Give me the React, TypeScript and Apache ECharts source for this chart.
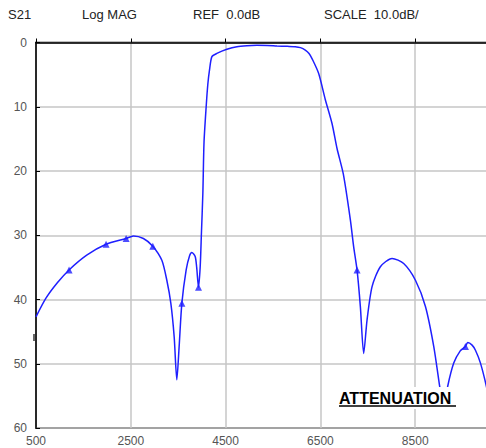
import React, { useEffect, useRef } from "react";
import * as echarts from "echarts";

// Frequency axis starts at 500; grid every 2000
const FREQ_START = 500;
const FREQ_STEP = 2000;
const FREQ_SPAN = 10000;
const xTickLabels = ["500", "2500", "4500", "6500", "8500"];
const yTickLabels = ["0", "10", "20", "30", "40", "50", "60"];

const headerTexts = ["S21", "Log MAG", "REF  0.0dB", "SCALE  10.0dB/"];
const annotation = "ATTENUATION";

// S21 trace (frequency, attenuation in dB)
const freqs = [
  500, 710, 950, 1197, 1570, 1978, 2401, 2555, 2766, 2964, 3155, 3260, 3345,
  3415, 3471, 3520, 3577, 3668, 3740, 3788, 3858, 3890, 3928, 3964, 3990,
  4020, 4045, 4090, 4125, 4160, 4211, 4316, 4527, 4739, 4950, 5161, 5380,
  5584, 5800, 5970, 6080, 6181, 6260, 6323, 6462, 6604, 6745, 6851, 6984, 7132,
  7202, 7273, 7343, 7413, 7484, 7590, 7765, 8012, 8257, 8505, 8716, 8891,
  9018, 9060, 9100, 9150, 9186, 9313, 9450, 9560, 9608, 9700, 9771, 9877,
  10004, 10060,
];
const db = [
  42.7, 39.8, 37.4, 35.4, 33.1, 31.4, 30.5, 30.1, 30.5, 31.7, 33.9, 37.0, 40.6,
  45.8, 52.5, 47.3, 40.6, 35.4, 33.2, 32.7, 33.3, 35.0, 38.1, 34.9, 29.7,
  23.5, 15.5, 10.0, 6.5, 4.3, 2.2, 1.7, 1.06, 0.65, 0.5, 0.44, 0.45,
  0.54, 0.6, 0.65, 0.8, 1.17, 1.7, 2.5, 4.8, 8.9, 12.6, 16.5, 20.5, 27.6,
  31.8, 35.4, 41.1, 48.4, 43.2, 38.0, 34.9, 33.6, 34.4, 37.0, 41.1, 47.3,
  53.6, 55.5, 56.2, 55.5, 53.5, 49.9, 48.0, 47.3, 46.7, 47.1, 47.9, 49.9,
  53.6, 56.0,
];

// Triangle markers on the trace
const markerFreqs = [1197, 1978, 2401, 2964, 3577, 3928, 7273, 9560];
const markerDb = [35.4, 31.4, 30.5, 31.7, 40.6, 38.1, 35.4, 47.3];

const TRACE = "#1f1fff";
const FONT = "'Liberation Sans', Arial, sans-serif";

export default function App() {
  const ref = useRef<HTMLDivElement>(null);

  useEffect(() => {
    if (!ref.current) return;
    const chart = echarts.init(ref.current, null, { renderer: "svg" });

    const trace = freqs.map((f, i) => [f - FREQ_START, db[i]]);
    const marks = markerFreqs.map((f, i) => [f - FREQ_START, markerDb[i]]);
    const headerX = [8, 82, 193, 324];

    chart.setOption({
      animation: false,
      backgroundColor: "#ffffff",
      grid: {
        left: 36,
        right: 10,
        top: 42.5,
        bottom: 20,
        show: true,
        borderColor: "#000",
        borderWidth: 1.5,
        backgroundColor: "transparent",
      },
      xAxis: {
        type: "value",
        min: 0,
        max: FREQ_SPAN,
        interval: FREQ_STEP,
        axisLine: { show: true, lineStyle: { color: "#000", width: 1.5 } },
        axisTick: { show: true, inside: true, length: 4, lineStyle: { color: "#000" } },
        axisLabel: {
          margin: 7,
          color: "#555",
          fontFamily: FONT,
          fontSize: 12,
          showMaxLabel: false,
          formatter: (v: number) => xTickLabels[Math.round(v / FREQ_STEP)] ?? "",
        },
        splitLine: { show: true, lineStyle: { color: "#c6c6c6", width: 1.5 } },
      },
      yAxis: {
        type: "value",
        inverse: true,
        min: 0,
        max: 60,
        interval: 10,
        axisLine: { show: true, lineStyle: { color: "#000", width: 1.5 } },
        axisTick: { show: true, inside: true, length: 4, lineStyle: { color: "#000" } },
        axisLabel: {
          margin: 9,
          color: "#555",
          fontFamily: FONT,
          fontSize: 12,
          formatter: (v: number) => yTickLabels[Math.round(v / 10)] ?? "",
        },
        splitLine: { show: true, lineStyle: { color: "#c6c6c6", width: 1.5 } },
      },
      series: [
        {
          type: "line",
          data: trace,
          smooth: 0.25,
          showSymbol: false,
          lineStyle: { color: TRACE, width: 1.5 },
          z: 3,
        },
        {
          type: "scatter",
          data: marks,
          symbol: "triangle",
          symbolSize: 7,
          itemStyle: { color: TRACE },
          z: 4,
        },
      ],
      graphic: [
        ...headerTexts.map((t, i) => ({
          type: "text",
          left: headerX[i],
          top: 8,
          style: {
            text: t,
            fill: "#222",
            font: `13px ${FONT}`,
          },
        })),
        {
          type: "rect",
          shape: { x: 334, y: 387, width: 128, height: 22 },
          style: { fill: "#ffffff" },
          z: 100,
        },
        {
          type: "text",
          x: 339,
          y: 398,
          style: {
            text: annotation,
            fill: "#000",
            font: `bold 16px ${FONT}`,
            textVerticalAlign: "middle",
          },
          z: 101,
        },
        {
          type: "line",
          shape: { x1: 339, y1: 406, x2: 456, y2: 406 },
          style: { stroke: "#000", lineWidth: 1.5 },
          z: 101,
        },
        {
          type: "line",
          shape: { x1: 34, y1: 334, x2: 34, y2: 341 },
          style: { stroke: "#000", lineWidth: 1.2 },
          z: 101,
        },
      ],
    });

    return () => chart.dispose();
  }, []);

  return (
    <div
      style={{
        position: "fixed",
        left: 0,
        top: 0,
        width: 486,
        height: 448,
        overflow: "hidden",
        background: "#fff",
      }}
    >
      <div ref={ref} style={{ width: 520, height: 448 }} />
    </div>
  );
}
